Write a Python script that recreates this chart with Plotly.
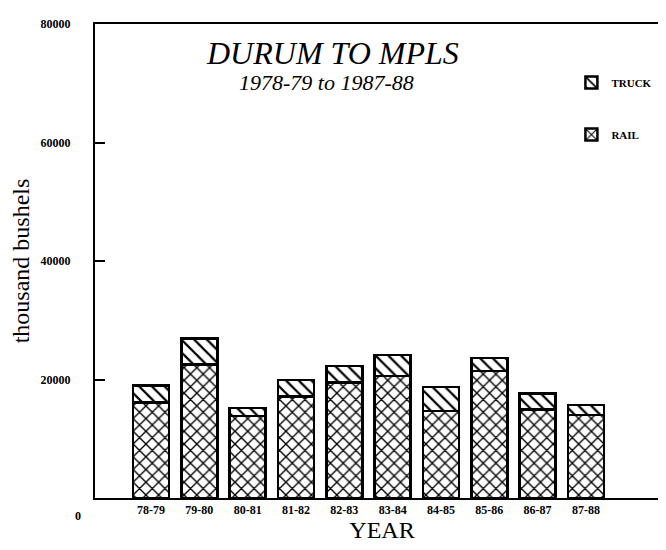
import plotly.graph_objects as go

years = ["78-79", "79-80", "80-81", "81-82", "82-83", "83-84", "84-85", "85-86", "86-87", "87-88"]
rail = [16100, 22500, 13800, 17100, 19500, 20600, 14700, 21400, 14900, 14000]
truck = [2900, 4400, 1400, 2800, 2800, 3500, 4000, 2200, 2700, 1700]
y_ticks = [0, 20000, 40000, 60000, 80000]
y_tick_text = ["", "20000", "40000", "60000", "80000"]

SERIF = "Liberation Serif, Times New Roman, serif"
x_idx = list(range(len(years)))

fig = go.Figure()
fig.add_trace(go.Bar(
    x=x_idx, y=rail, name="RAIL", legendgroup="rail", legendrank=2,
    marker=dict(color="white", line=dict(color="black", width=2.5),
                pattern=dict(shape="x", fgcolor="black", bgcolor="white", size=9,
                             solidity=0.28, fgopacity=1)),
))
fig.add_trace(go.Bar(
    x=x_idx, y=truck, name="TRUCK", legendgroup="truck", legendrank=1,
    marker=dict(color="white", line=dict(color="black", width=2.5),
                pattern=dict(shape="\\", fgcolor="black", bgcolor="white", size=9,
                             solidity=0.25, fgopacity=1)),
))

fig.update_layout(
    width=666, height=550,
    margin=dict(l=87, r=5, t=16, b=60, autoexpand=False),
    paper_bgcolor="white", plot_bgcolor="white",
    barmode="stack", bargap=0.255,
    font=dict(family=SERIF, color="black"),
    showlegend=True,
    legend=dict(x=0.83, y=0.907, xanchor="left", yanchor="top",
                traceorder="grouped", tracegroupgap=33,
                font=dict(family=SERIF, size=11, color="black", weight="bold"),
                bgcolor="rgba(0,0,0,0)"),
    xaxis=dict(range=[-1.16, 10.72], tickvals=x_idx, ticktext=years, automargin=False,
               showline=True, linecolor="black", linewidth=2, mirror=True,
               ticks="", showgrid=False, zeroline=False,
               tickfont=dict(family=SERIF, size=12, weight="bold"),
               title=dict(text="YEAR", font=dict(family=SERIF, size=24), standoff=4)),
    yaxis=dict(range=[0, 80000], tickvals=y_ticks, ticktext=y_tick_text, automargin=False,
               showline=True, linecolor="black", linewidth=2, mirror=True,
               ticks="inside", ticklen=10, tickwidth=2, tickcolor="black",
               ticklabelstandoff=20,
               showgrid=False, zeroline=False,
               tickfont=dict(family=SERIF, size=12, weight="bold"),
               title=dict(text="thousand bushels", font=dict(family=SERIF, size=24), standoff=12)),
    annotations=[
        dict(text="<i>DURUM TO MPLS</i>", xref="paper", yref="paper", x=0.413, y=0.939,
             xanchor="center", yanchor="middle", showarrow=False,
             font=dict(family=SERIF, size=32, color="black")),
        dict(text="<i>1978-79 to 1987-88</i>", xref="paper", yref="paper", x=0.403, y=0.876,
             xanchor="center", yanchor="middle", showarrow=False,
             font=dict(family=SERIF, size=22, color="black")),
        dict(text="<b>0</b>", xref="paper", yref="paper", x=0, y=0, xshift=-17, yshift=-18,
             xanchor="center", yanchor="middle", showarrow=False,
             font=dict(family=SERIF, size=12, color="black")),
    ],
)

fig.write_html("out.html")
